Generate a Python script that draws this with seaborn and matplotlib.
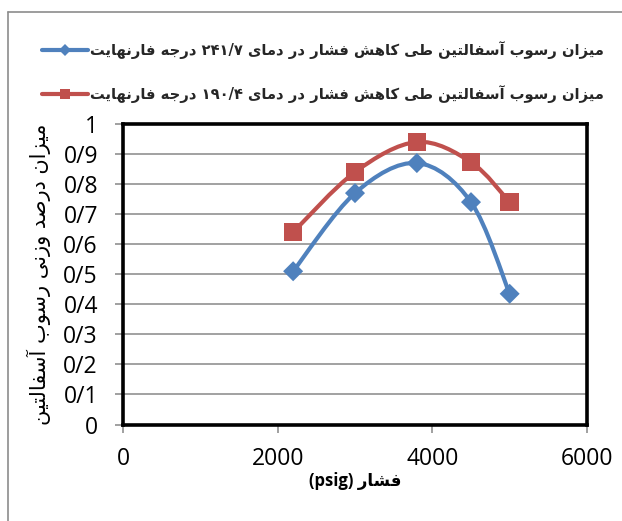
import re
import numpy as np
import pandas as pd
import matplotlib
matplotlib.use("Agg")
import matplotlib.pyplot as plt
import seaborn as sns
from matplotlib.path import Path
from matplotlib.patches import PathPatch
from matplotlib.lines import Line2D
from matplotlib.font_manager import FontProperties

# ---- data -----------------------------------------------------------------
pressure = [2200, 3000, 3800, 4500, 5000]            # psig
deposit_241 = [0.51, 0.77, 0.87, 0.74, 0.435]        # 241.7 F
deposit_190 = [0.64, 0.84, 0.94, 0.873, 0.74]        # 190.4 F
series_names = [
    "میزان رسوب آسفالتین طی کاهش فشار در دمای ۲۴۱/۷ درجه فارنهایت",
    "میزان رسوب آسفالتین طی کاهش فشار در دمای ۱۹۰/۴ درجه فارنهایت",
]
x_ticks = [0, 2000, 4000, 6000]
x_tick_labels = ["0", "2000", "4000", "6000"]
y_ticks = [0, 0.1, 0.2, 0.3, 0.4, 0.5, 0.6, 0.7, 0.8, 0.9, 1.0]
y_tick_labels = ["0", "0/1", "0/2", "0/3", "0/4", "0/5", "0/6", "0/7", "0/8", "0/9", "1"]
x_title = "فشار (psig)"
y_title = "میزان درصد وزنی رسوب آسفالتین"
colors = ["#4F81BD", "#C0504D"]
markers = ["D", "s"]

# ---- minimal Persian shaping + right-to-left ordering ----------------------
FORMS = {  # isolated, final, initial, medial
    "\u0622": ("\uFE81", "\uFE82", None, None),
    "\u0627": ("\uFE8D", "\uFE8E", None, None),
    "\u0628": ("\uFE8F", "\uFE90", "\uFE91", "\uFE92"),
    "\u062A": ("\uFE95", "\uFE96", "\uFE97", "\uFE98"),
    "\u062C": ("\uFE9D", "\uFE9E", "\uFE9F", "\uFEA0"),
    "\u062F": ("\uFEA9", "\uFEAA", None, None),
    "\u0631": ("\uFEAD", "\uFEAE", None, None),
    "\u0632": ("\uFEAF", "\uFEB0", None, None),
    "\u0633": ("\uFEB1", "\uFEB2", "\uFEB3", "\uFEB4"),
    "\u0634": ("\uFEB5", "\uFEB6", "\uFEB7", "\uFEB8"),
    "\u0635": ("\uFEB9", "\uFEBA", "\uFEBB", "\uFEBC"),
    "\u0637": ("\uFEC1", "\uFEC2", "\uFEC3", "\uFEC4"),
    "\u0641": ("\uFED1", "\uFED2", "\uFED3", "\uFED4"),
    "\u06A9": ("\uFB8E", "\uFB8F", "\uFB90", "\uFB91"),
    "\u0644": ("\uFEDD", "\uFEDE", "\uFEDF", "\uFEE0"),
    "\u0645": ("\uFEE1", "\uFEE2", "\uFEE3", "\uFEE4"),
    "\u0646": ("\uFEE5", "\uFEE6", "\uFEE7", "\uFEE8"),
    "\u0647": ("\uFEE9", "\uFEEA", "\uFEEB", "\uFEEC"),
    "\u0648": ("\uFEED", "\uFEEE", None, None),
    "\u06CC": ("\uFBFC", "\uFBFD", "\uFBFE", "\uFBFF"),
}


def visual(text):
    chars = list(text)
    out = []
    for i, ch in enumerate(chars):
        if ch not in FORMS:
            out.append(ch)
            continue
        prev = chars[i - 1] if i > 0 else ""
        nxt = chars[i + 1] if i + 1 < len(chars) else ""
        join_prev = prev in FORMS and FORMS[prev][2] is not None
        join_next = FORMS[ch][2] is not None and nxt in FORMS
        iso, fin, ini, med = FORMS[ch]
        if join_prev and join_next:
            out.append(med)
        elif join_prev:
            out.append(fin)
        elif join_next:
            out.append(ini)
        else:
            out.append(iso)
    s = "".join(out)[::-1]
    s = s.translate(str.maketrans("()", ")("))
    s = re.sub(r"[A-Za-z0-9\u06F0-\u06F9/.]+", lambda m: m.group(0)[::-1], s)
    return s


def smooth_path(xs, ys):
    pts = np.column_stack([xs, ys]).astype(float)
    n = len(pts)
    verts, codes = [pts[0]], [Path.MOVETO]
    for i in range(n - 1):
        p0 = pts[i - 1] if i > 0 else pts[i]
        p1, p2 = pts[i], pts[i + 1]
        p3 = pts[i + 2] if i + 2 < n else pts[i + 1]
        verts += [p1 + (p2 - p0) / 6.0, p2 - (p3 - p1) / 6.0, p2]
        codes += [Path.CURVE4] * 3
    return Path(verts, codes)


# ---- figure ------------------------------------------------------------------
sns.set_theme(style="white")
plt.rcParams["font.family"] = ["Open Sans", "DejaVu Sans"]

W, H = 622, 521
fig = plt.figure(figsize=(W / 100, H / 100), dpi=100)
fig.patch.set_facecolor("white")
ax = fig.add_axes([123 / W, 1 - 424.5 / H, 464 / W, 300.5 / H])

df = pd.DataFrame({
    "pressure": pressure * 2,
    "deposit": deposit_241 + deposit_190,
    "series": [series_names[0]] * len(pressure) + [series_names[1]] * len(pressure),
})

# smoothed connecting curves
for name, c in zip(series_names, colors):
    sub = df[df["series"] == name]
    ax.add_patch(PathPatch(smooth_path(sub["pressure"], sub["deposit"]),
                           facecolor="none", edgecolor=c, lw=3.0,
                           capstyle="round", joinstyle="round", zorder=2))

sns.scatterplot(data=df, x="pressure", y="deposit", hue="series", style="series",
                size="series", hue_order=series_names, style_order=series_names,
                size_order=series_names,
                palette=dict(zip(series_names, colors)),
                markers=dict(zip(series_names, markers)),
                sizes={series_names[0]: 104, series_names[1]: 175},
                linewidth=0, legend=False, ax=ax, zorder=3)

ax.set_xlim(0, 6000)
ax.set_ylim(0, 1)
ax.set_xticks(x_ticks, x_tick_labels)
ax.set_yticks(y_ticks, y_tick_labels)
ax.grid(axis="y", color="#9A9A9A", lw=1.3)
ax.grid(axis="x", visible=False)
ax.set_axisbelow(True)
for sp in ax.spines.values():
    sp.set_color("black")
    sp.set_linewidth(2.6)
    sp.set_visible(True)
ax.tick_params(axis="both", which="major", direction="out", length=6,
               width=1.2, color="#909090", labelsize=16.5, labelcolor="black")
ax.tick_params(axis="y", pad=12)
ax.tick_params(axis="x", pad=10)
ax.tick_params(left=True, bottom=True)

ax.set_xlabel(visual(x_title), fontsize=12, fontweight="bold",
              family=["Open Sans", "DejaVu Sans"], color="black")
ax.xaxis.set_label_coords(0.5, (424.5 - 472) / 300.5)
ax.set_ylabel(visual(y_title), fontsize=15, family=["DejaVu Sans"], color="black")
ax.yaxis.set_label_coords((51 - 123) / 464, 0.5)

handles = [
    Line2D([], [], color=colors[0], lw=3, marker="D", markersize=6.2, markeredgewidth=0),
    Line2D([], [], color=colors[1], lw=3, marker="s", markersize=7.5, markeredgewidth=0),
]
fig.legend(handles, [visual(s) for s in series_names], loc="upper left",
           bbox_to_anchor=(42 / W, 1 - 41.5 / H), bbox_transform=fig.transFigure,
           frameon=False, borderpad=0, borderaxespad=0, handlelength=3.1,
           handletextpad=0.15, labelspacing=1.72,
           prop=FontProperties(family="DejaVu Sans", weight="bold", size=10.6))

# outer chart border (left and top edges)
fig.add_artist(Line2D([8 / W, 8 / W], [0, 1 - 12 / H], transform=fig.transFigure,
                      color="#8C8C8C", lw=1.2))
fig.add_artist(Line2D([8 / W, 1], [1 - 12 / H, 1 - 12 / H], transform=fig.transFigure,
                      color="#8C8C8C", lw=1.2))

fig.savefig("out.png", dpi=100, facecolor="white")
